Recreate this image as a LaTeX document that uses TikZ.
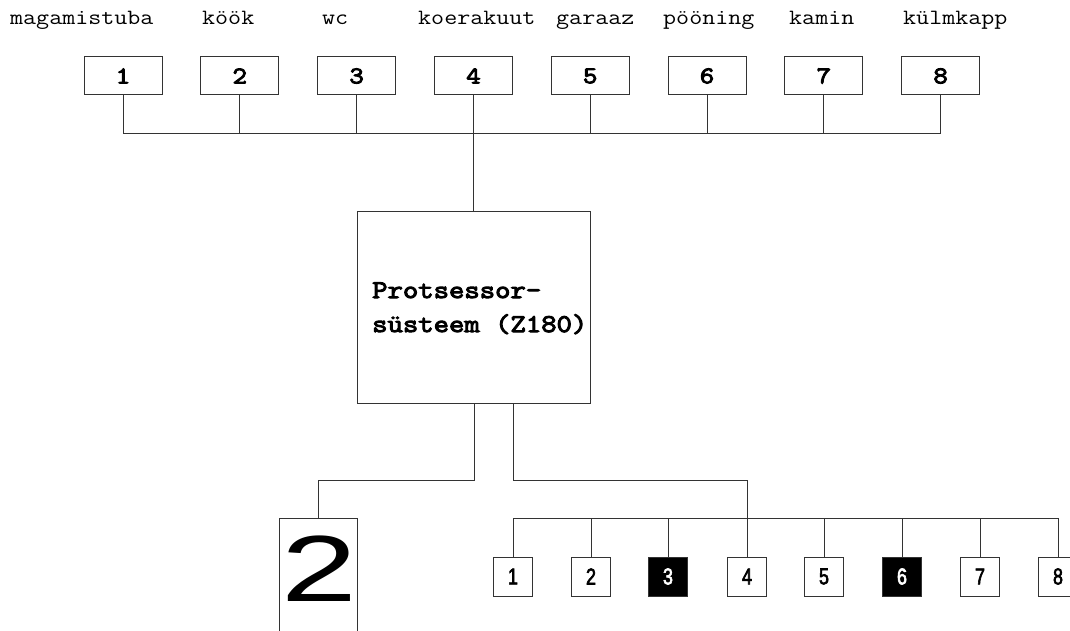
\documentclass[tikz,border=0pt]{standalone}
\usepackage{fontspec}
\newfontfamily\labfont[FakeStretch=1.16]{Latin Modern Mono}
\newfontfamily\labbold[FakeStretch=1.17,FakeBold=4]{Latin Modern Mono}
\newfontfamily\narrowf[FakeStretch=0.78,FakeBold=2.5]{Liberation Sans}
\newfontfamily\bigf{Liberation Sans}
\begin{document}
\begin{tikzpicture}[x=1pt,y=-1pt,
  wire/.style={draw=black!80,line width=1pt},
  topbox/.style={draw=black!80,line width=1pt,minimum width=78pt,minimum height=38pt,inner sep=0pt,font=\labbold\fontsize{24}{24}\selectfont},
  botbox/.style={draw=black!80,line width=1pt,minimum width=39pt,minimum height=39pt,inner sep=0pt,font=\narrowf\fontsize{23}{23}\selectfont},
  darkbox/.style={botbox,fill=black,text=white},
  roomlabel/.style={anchor=base west,inner sep=0pt,font=\labfont\fontsize{21.8}{21.8}\selectfont},
  proctext/.style={anchor=base west,inner sep=0pt,font=\labbold\fontsize{25.5}{25.5}\selectfont}]
\useasboundingbox[fill=white] (0,0) rectangle (1070,631);
% room labels
\node[roomlabel] (l1) at (10,25) {magamistuba};
\node[roomlabel] (l2) at (202,25) {köök};
\node[roomlabel] (l3) at (322,25) {wc};
\node[roomlabel] (l4) at (418,25) {koerakuut};
\node[roomlabel] (l5) at (556,25) {garaaz};
\node[roomlabel] (l6) at (663,25) {pööning};
\node[roomlabel] (l7) at (789,25) {kamin};
\node[roomlabel] (l8) at (903,25) {külmkapp};
% top boxes
\foreach \i/\x in {1/123,2/239.8,3/356.6,4/473.4,5/590.2,6/707,7/823.8,8/940.6}{
  \node[topbox] (t\i) at (\x,76) {\i};
  \coordinate (tj\i) at (\x,134);
}
\foreach \i in {1,...,8}{ \draw[wire] (t\i.south) -- (tj\i); }
\draw[wire] (tj1) -- (tj8);
% processor
\node[draw=black!80,line width=1pt,minimum width=233pt,minimum height=192pt,inner sep=0pt] (proc) at (473.5,307) {};
\node[proctext] (p1) at (372,298) {Protsessor-};
\node[proctext] (p2) at (372,332) {süsteem (Z180)};
\draw[wire] (tj4) -- (proc.north -| tj4);
% display box (open at bottom, runs past the page)
\node[draw=black!80,line width=1pt,minimum width=78pt,minimum height=142pt,inner sep=0pt] (disp) at (318,589) {};
\node[inner sep=0pt,font=\bigf\fontsize{94}{94}\selectfont] (digit) at (319,568.5) {\scalebox{1.45}[1]{2}};
% bottom boxes
\foreach \i/\x in {1/513,2/591,3/668,4/747,5/824,6/902,7/980,8/1058}{
  \coordinate (bj\i) at (\x,518);
}
\foreach \i/\x in {1/513,2/591,4/747,5/824,7/980,8/1058}{
  \node[botbox] (b\i) at (\x,576.5) {\raisebox{-1.5pt}{\i}};
}
\foreach \i/\x in {3/668,6/902}{
  \node[darkbox] (b\i) at (\x,576.5) {\raisebox{-1.5pt}{\i}};
}
\foreach \i in {1,2,3,5,6,7,8}{ \draw[wire] (bj\i) -- (b\i.north); }
\draw[wire] (bj1) -- (bj8);
% processor outputs
\coordinate (pl) at (474,403);
\coordinate (pr) at (513,403);
\draw[wire] (pl) -- (474,480) -- (318,480) -- (disp.north);
\draw[wire] (pr) -- (513,480) -- (747,480) -- (b4.north);
\end{tikzpicture}
\end{document}
